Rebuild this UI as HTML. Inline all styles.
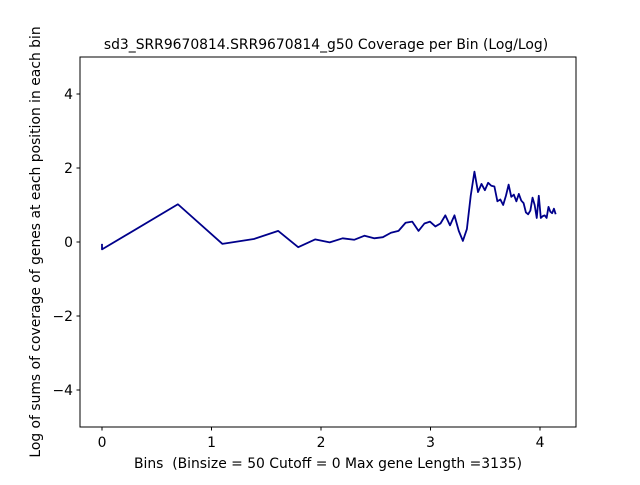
<!DOCTYPE html>
<html><head><meta charset="utf-8"><style>
body{margin:0;background:#fff}
svg text{font-family:"DejaVu Sans","Liberation Sans",sans-serif;fill:#000}
</style></head><body>
<svg id="chart" width="640" height="480">
<rect width="640" height="480" fill="#fff"/>
<text x="326" y="49" font-size="13.9" text-anchor="middle">sd3_SRR9670814.SRR9670814_g50 Coverage per Bin (Log/Log)</text>
<text x="328" y="468" font-size="13.9" text-anchor="middle" style="white-space:pre">Bins  (Binsize = 50 Cutoff = 0 Max gene Length =3135)</text>
<text transform="translate(40,242) rotate(-90)" font-size="13.9" text-anchor="middle">Log of sums of coverage of genes at each position in each bin</text>
<g id="ticks"></g>
<path id="line" fill="none" stroke="#00008b" stroke-width="1.8" stroke-linejoin="round"/>
<rect x="80" y="57" width="496" height="370" fill="none" stroke="#000" stroke-width="1"/>
</svg>
<script>
const bins=[1,1,2,3,4,5,6,7,8,9,10,11,12,13,14,15,16,17,18,19,20,21,22,23,24,25,26,27,28,29,30,31,32,33,34,35,36,37,38,39,40,41,42,43,44,45,46,47,48,49,50,51,52,53,54,55,56,57,58,59,60,61,62,63];
const values=[-0.05,-0.2,1.02,-0.05,0.08,0.3,-0.14,0.07,-0.01,0.1,0.06,0.17,0.1,0.13,0.25,0.3,0.52,0.55,0.3,0.5,0.55,0.42,0.5,0.72,0.45,0.72,0.3,0.03,0.35,1.25,1.9,1.35,1.57,1.4,1.6,1.52,1.5,1.1,1.15,1.0,1.25,1.55,1.22,1.28,1.1,1.3,1.12,1.05,0.8,0.75,0.85,1.2,1.0,0.65,1.25,0.65,0.7,0.72,0.65,0.95,0.82,0.78,0.9,0.75];
const xTicks=[0,1,2,3,4];
const yTicks=[-4,-2,0,2,4];
const X=v=>102+v*109.5;
const Y=v=>242-v*37;
const ns="http://www.w3.org/2000/svg";
const g=document.getElementById('ticks');
function mk(t,a){const e=document.createElementNS(ns,t);for(const k in a)e.setAttribute(k,a[k]);g.appendChild(e);return e;}
xTicks.forEach(t=>{
  const l=mk('line',{x1:X(t),x2:X(t),y1:427,y2:430.5,stroke:'#000'});
  
  
  const tx=mk('text',{x:X(t),y:447,'font-size':13.9,'text-anchor':'middle'});
  tx.textContent=t;
  
  
});
yTicks.forEach(t=>{
  const l=mk('line',{x1:76.5,x2:80,y1:Y(t),y2:Y(t),stroke:'#000'});
  
  
  const tx=mk('text',{x:73,y:Y(t)+5,'font-size':13.9,'text-anchor':'end'});
  tx.textContent=(t<0?'\u2212'+(-t):t);
  
  
});
let d='';
bins.forEach((b,i)=>{d+=(i?'L':'M')+X(Math.log(b)).toFixed(2)+','+Y(values[i]).toFixed(2);});
document.getElementById('line').setAttribute('d',d);
</script>
</body></html>
